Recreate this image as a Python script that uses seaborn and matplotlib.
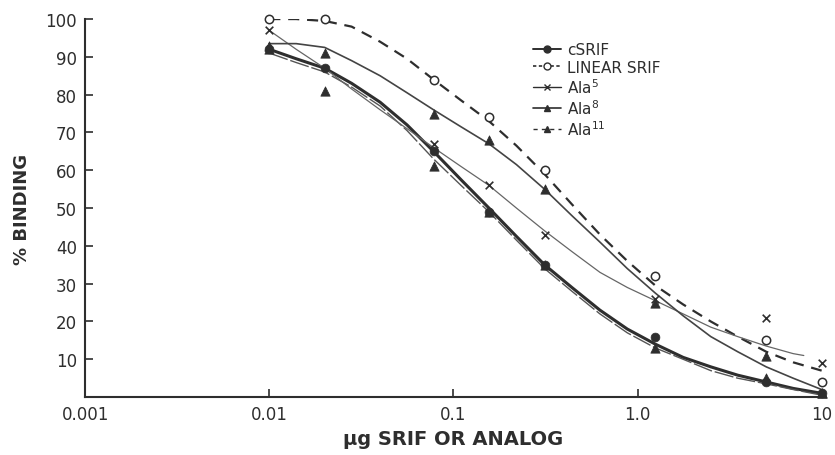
import numpy as np
import pandas as pd
import matplotlib.pyplot as plt
import seaborn as sns
from matplotlib.lines import Line2D

sns.set_style("ticks")
plt.rcParams['font.family'] = ['DejaVu Sans']

ink = "#2e2e2e"

# measured points (dose in ug)
dose = [0.01, 0.02, 0.078, 0.156, 0.3125, 1.25, 5, 10]
csrif_pts = [92, 87, 65, 49, 35, 16, 4, 1]
linear_pts = [100, 100, 84, 74, 60, 32, 15, 4]
ala5_pts = [97, np.nan, 67, 56, 43, 26, 21, 9]
ala8_pts = [93, 91, 75, 68, 55, 25, 11, 1]
ala11_pts = [92, 81, 61, 49, 35, 13, 5, 1]

# hand-drawn fitted curves
curve_x = [0.01, 0.014, 0.02, 0.028, 0.04, 0.056, 0.078, 0.11, 0.156, 0.22, 0.3125,
           0.44, 0.625, 0.88, 1.25, 1.77, 2.5, 3.5, 5, 7, 10]
csrif_curve = [92, 89.5, 87, 83, 78, 72, 65, 57.5, 50, 42.5, 35,
               29, 23, 18, 14, 10.5, 8, 5.8, 4, 2.3, 1]
ala11_curve = [91, 88.5, 86, 82, 77, 70.5, 63, 56, 49, 41.5, 34,
               28, 22, 17, 13, 10, 7, 5, 3.5, 2, 0.5]
linear_curve = [100, 100, 99.5, 98, 94, 89.5, 84, 78.5, 73, 66.5, 59,
                51, 43, 36, 29.5, 24.5, 20, 16, 12, 9.2, 7]
ala8_curve = [93.5, 93.5, 92.5, 89, 85, 80.5, 76, 71.5, 67, 61.5, 55,
              48, 41, 34, 27.5, 21.5, 16, 12, 8, 5, 2]
ala5_x = [0.01, 0.014, 0.02, 0.028, 0.04, 0.056, 0.078, 0.11, 0.156, 0.22, 0.3125,
          0.44, 0.625, 0.88, 1.25, 1.77, 2.5, 3.5, 5, 7, 8]
ala5_curve = [97, 92, 87, 81.5, 76, 71, 66, 61, 56, 50, 44,
              38.5, 33, 29, 25.5, 22, 18.5, 16, 13.5, 11.5, 11]

fig = plt.figure(figsize=(8.35, 4.56), dpi=100)
ax = fig.add_axes([0.102, 0.127, 0.882, 0.829])

sns.lineplot(x=curve_x, y=csrif_curve, ax=ax, color=ink, lw=2.2, sort=False)
sns.lineplot(x=curve_x, y=ala11_curve, ax=ax, color="#555555", lw=1.0, sort=False)
ax.lines[-1].set_dashes((14, 2))
sns.lineplot(x=curve_x, y=linear_curve, ax=ax, color=ink, lw=1.6, sort=False)
ax.lines[-1].set_dashes((5, 3.5))
sns.lineplot(x=ala5_x, y=ala5_curve, ax=ax, color="#666666", lw=0.9, sort=False)
sns.lineplot(x=curve_x, y=ala8_curve, ax=ax, color="#444444", lw=1.2, sort=False)

sns.scatterplot(x=dose, y=csrif_pts, ax=ax, marker="o", s=40, color=ink, edgecolor=ink, zorder=5, clip_on=False)
sns.scatterplot(x=dose, y=linear_pts, ax=ax, marker="o", s=36, facecolor="white", edgecolor=ink, linewidth=1.1, zorder=5, clip_on=False)
sns.scatterplot(x=dose, y=ala5_pts, ax=ax, marker="x", s=30, color=ink, linewidth=1.2, zorder=5, clip_on=False)
sns.scatterplot(x=dose, y=ala8_pts, ax=ax, marker="^", s=45, color=ink, edgecolor=ink, zorder=5, clip_on=False)
sns.scatterplot(x=dose, y=ala11_pts, ax=ax, marker="^", s=45, color=ink, edgecolor=ink, zorder=5, clip_on=False)

ax.set_xscale("log")
ax.set_xlim(0.001, 10)
ax.set_ylim(0, 100)
ax.set_xticks([0.001, 0.01, 0.1, 1, 10])
ax.set_xticklabels(["0.001", "0.01", "0.1", "1.0", "10"])
ax.xaxis.set_minor_locator(plt.NullLocator())
ax.set_yticks(range(10, 101, 10))
ax.tick_params(axis="both", direction="in", length=6, width=1.2, colors=ink, labelsize=12, pad=6)
sns.despine(ax=ax)
for s in ["left", "bottom"]:
    ax.spines[s].set_color(ink)
    ax.spines[s].set_linewidth(1.5)

ax.set_xlabel("\u03bcg SRIF OR ANALOG", fontsize=14, fontweight="bold", color=ink, labelpad=4)
ax.set_ylabel("% BINDING", fontsize=13, fontweight="bold", color=ink, labelpad=10)

handles = [
    Line2D([], [], color=ink, lw=1.4, marker="o", markersize=5),
    Line2D([], [], color=ink, lw=1.2, ls=(0, (2, 1.5)), marker="o", markersize=5, markerfacecolor="white"),
    Line2D([], [], color=ink, lw=1.0, marker="x", markersize=5),
    Line2D([], [], color=ink, lw=1.2, marker="^", markersize=5),
    Line2D([], [], color=ink, lw=1.0, ls=(0, (3, 3)), marker="^", markersize=5),
]
labels = ["cSRIF", "LINEAR SRIF", "Ala$^{5}$", "Ala$^{8}$", "Ala$^{11}$"]
ax.legend(handles, labels, loc="upper left", bbox_to_anchor=(0.59, 0.975), frameon=False,
          fontsize=11, handlelength=1.8, handletextpad=0.4, labelspacing=0.15, labelcolor=ink)

plt.savefig("out.png", dpi=100)
